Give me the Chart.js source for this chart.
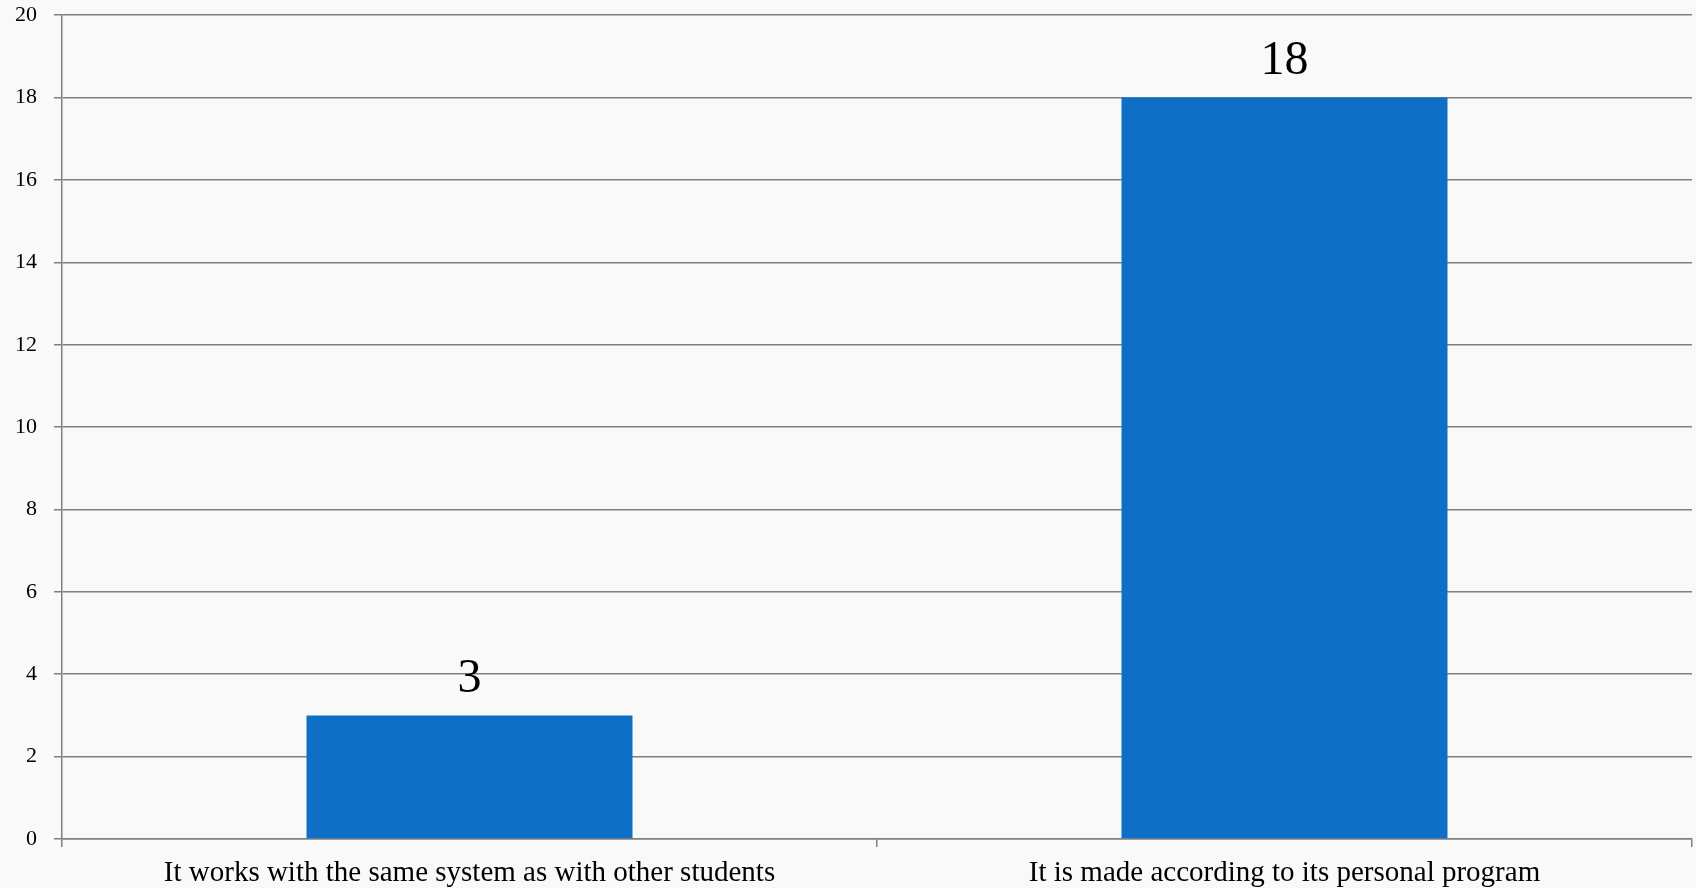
<!DOCTYPE html>
<html>
<head>
<meta charset="utf-8">
<script src="https://cdn.jsdelivr.net/npm/chart.js@4"></script>
<style>
  html, body { margin: 0; padding: 0; background: #f9f9f9; }
  #wrap { width: 1696px; height: 888px; overflow: hidden; }
  #chart { display: block; margin-top: -15px; }
</style>
</head>
<body>
<div id="wrap"><canvas id="chart" width="1696" height="903"></canvas></div>
<script>
// categories and values
const categories = [
    'It works with the same system as with other students',
    'It is made according to its personal program'
];
const counts = [3, 18];
const yTicks = [0, 2, 4, 6, 8, 10, 12, 14, 16, 18, 20];

const serif = "'Liberation Serif', 'DejaVu Serif', serif";

// draws the value above each bar
const valueLabels = {
    id: 'valueLabels',
    afterDatasetsDraw(chart) {
        const ctx = chart.ctx;
        const meta = chart.getDatasetMeta(0);
        ctx.save();
        ctx.fillStyle = '#000';
        ctx.font = '48px ' + serif;
        ctx.textAlign = 'center';
        ctx.textBaseline = 'bottom';
        meta.data.forEach((bar, i) => {
            ctx.fillText(String(counts[i]), bar.x, bar.y - 12);
        });
        ctx.restore();
    }
};

new Chart(document.getElementById('chart').getContext('2d'), {
    type: 'bar',
    data: {
        labels: categories,
        datasets: [{
            data: counts,
            backgroundColor: '#0F6FC6',
            borderWidth: 0,
            barPercentage: 0.4,
            categoryPercentage: 1
        }]
    },
    options: {
        responsive: false,
        animation: false,
        layout: { padding: { top: 0, right: 4, left: 0, bottom: 0 } },
        plugins: {
            legend: { display: false },
            tooltip: { enabled: false }
        },
        scales: {
            x: {
                offset: true,
                grid: {
                    offset: true,
                    drawOnChartArea: false,
                    color: '#808080',
                    lineWidth: 1.5,
                    tickLength: 8
                },
                border: { color: '#808080', width: 1.5 },
                ticks: {
                    color: '#000',
                    font: { family: serif, size: 29 },
                    padding: 9,
                    maxRotation: 0,
                    autoSkip: false
                },
                afterFit(scale) { scale.height = 49; }
            },
            y: {
                min: 0,
                max: 20,
                afterBuildTicks(scale) {
                    scale.ticks = yTicks.map(v => ({ value: v }));
                },
                grid: {
                    color: '#808080',
                    lineWidth: 1.5,
                    tickLength: 8
                },
                border: { color: '#808080', width: 1.5 },
                ticks: {
                    color: '#000',
                    font: { family: serif, size: 22 },
                    padding: 17
                },
                afterFit(scale) { scale.width = 62; }
            }
        }
    },
    plugins: [valueLabels]
});
</script>
</body>
</html>
